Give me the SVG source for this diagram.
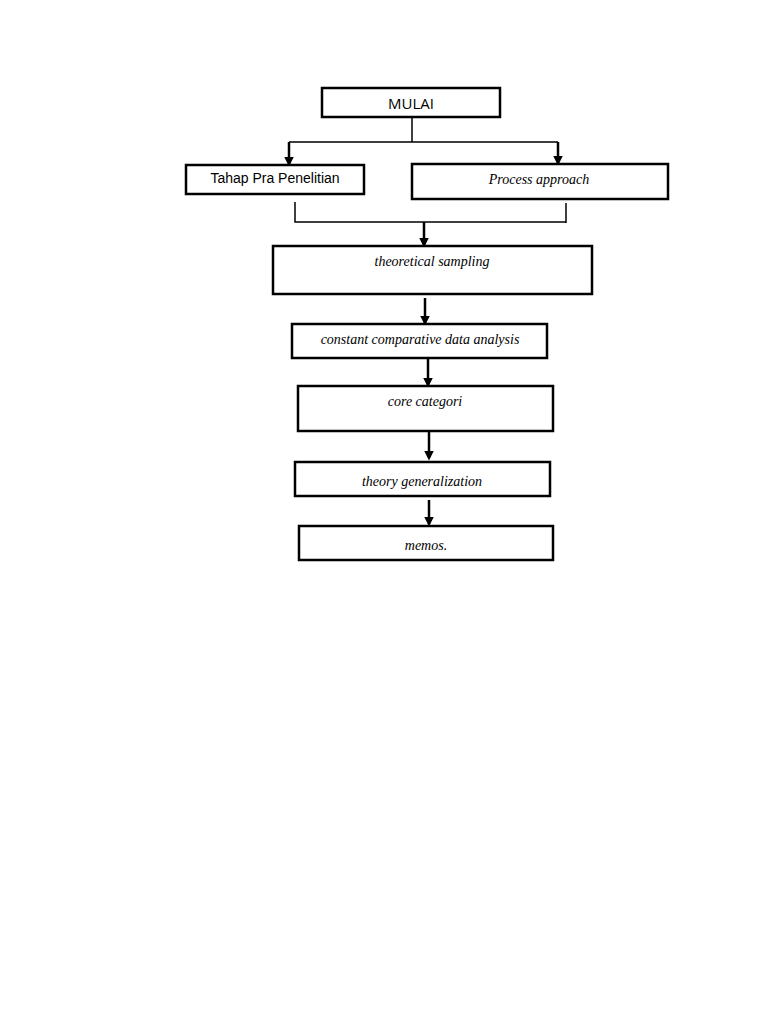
<svg xmlns="http://www.w3.org/2000/svg" width="768" height="1024" viewBox="0 0 768 1024">
<style>
.b{fill:#fff;stroke:#000;stroke-width:2.5}
.l{fill:none;stroke:#000;stroke-width:1.5}
.a{fill:none;stroke:#000;stroke-width:2.5;marker-end:url(#m)}
.t{font-family:"Liberation Serif",serif;font-style:italic;font-size:14px;text-anchor:middle}
</style>
<defs><marker id="m" markerWidth="4" markerHeight="4" refX="3" refY="2" orient="auto"><path d="M0,0L4,2L0,4Z"/></marker></defs>
<rect width="768" height="1024" fill="#fff"/>
<g id="connectors">
<path class="l" d="M412,117V142M289,142H558"/>
<path class="a" d="M289,142V164"/>
<path class="a" d="M558,142V163"/>
<path class="l" d="M295,202V222H566M566,203V223"/>
<path class="a" d="M424,222V245"/>
<path class="a" d="M425,298V323"/>
<path class="a" d="M428,358V385"/>
<path class="a" d="M429,432V458"/>
<path class="a" d="M429,500V524"/>
</g>
<g id="mulai"><rect class="b" x="322" y="88" width="178" height="29"/><text x="411" y="109" font-family="Open Sans,sans-serif" font-size="15" text-anchor="middle">MULAI</text></g>
<g id="tahap"><rect class="b" x="186" y="165" width="178" height="29"/><text x="275" y="183" font-family="Liberation Sans,sans-serif" font-size="14" text-anchor="middle">Tahap Pra Penelitian</text></g>
<g id="process"><rect class="b" x="412" y="164" width="256" height="35"/><text class="t" x="539" y="184" font-size="15">Process approach</text></g>
<g id="theoretical"><rect class="b" x="273" y="246" width="319" height="48"/><text class="t" x="432" y="266">theoretical sampling</text></g>
<g id="constant"><rect class="b" x="292" y="324" width="255" height="34"/><text class="t" x="420" y="344">constant comparative data analysis</text></g>
<g id="core"><rect class="b" x="298" y="386" width="255" height="45"/><text class="t" x="425" y="406">core categori</text></g>
<g id="theory"><rect class="b" x="295" y="462" width="255" height="34"/><text class="t" x="422" y="486">theory generalization</text></g>
<g id="memos"><rect class="b" x="299" y="526" width="254" height="34"/><text class="t" x="426" y="550">memos.</text></g>
</svg>
